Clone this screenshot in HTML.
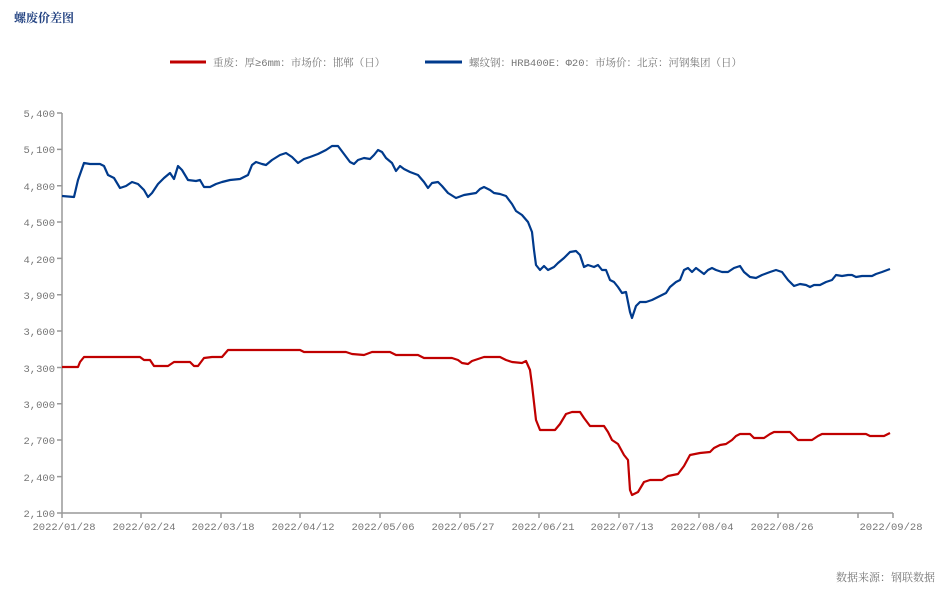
<!DOCTYPE html>
<html><head><meta charset="utf-8"><style>
body{margin:0;background:#fff;}
svg text{font-family:"Liberation Sans","Noto Sans CJK SC",sans-serif;}
svg .m, svg .m text{font-family:"Liberation Mono","Noto Serif CJK SC",monospace;}
</style></head><body>
<svg width="950" height="588" viewBox="0 0 950 588" xmlns="http://www.w3.org/2000/svg">
<text x="14" y="22" font-size="12" fill="#1f3f7f" font-weight="bold" style="font-family:'Noto Serif CJK SC','Liberation Serif',serif">螺废价差图</text>
<line x1="170" y1="62" x2="206" y2="62" stroke="#c00000" stroke-width="3"/>
<text class="m" x="213" y="66" font-size="10.5" fill="#777">重废：厚≥6mm：市场价：邯郸（日）</text>
<line x1="425" y1="62" x2="462" y2="62" stroke="#003a8c" stroke-width="3"/>
<text class="m" x="469" y="66" font-size="10.5" fill="#777">螺纹钢：HRB400E：Φ20：市场价：北京：河钢集团（日）</text>
<g class="m" font-size="10.5" fill="#777" text-anchor="end">
<text x="55" y="117">5,400</text><text x="55" y="153">5,100</text><text x="55" y="190">4,800</text><text x="55" y="226">4,500</text><text x="55" y="263">4,200</text><text x="55" y="299">3,900</text><text x="55" y="335">3,600</text><text x="55" y="372">3,300</text><text x="55" y="408">3,000</text><text x="55" y="444">2,700</text><text x="55" y="481">2,400</text><text x="55" y="517">2,100</text>
</g>
<g stroke="#999" stroke-width="1.5" fill="none">
<line x1="62" y1="113" x2="62" y2="513"/>
<line x1="62" y1="513" x2="893" y2="513"/>
<path d="M57 113H62M57 149.4H62M57 185.7H62M57 222H62M57 258.4H62M57 294.8H62M57 331H62M57 367.5H62M57 403.8H62M57 440H62M57 476.6H62M57 513H62"/>
<path d="M62 513V518M141 513V518M221 513V518M300 513V518M380 513V518M460 513V518M539 513V518M619 513V518M699 513V518M778 513V518M858 513V518M893 513V518"/>
</g>
<g class="m" font-size="10.5" fill="#777" text-anchor="middle">
<text x="64" y="530">2022/01/28</text><text x="144" y="530">2022/02/24</text><text x="223" y="530">2022/03/18</text><text x="303" y="530">2022/04/12</text><text x="383" y="530">2022/05/06</text><text x="463" y="530">2022/05/27</text><text x="543" y="530">2022/06/21</text><text x="622" y="530">2022/07/13</text><text x="702" y="530">2022/08/04</text><text x="782" y="530">2022/08/26</text><text x="891" y="530">2022/09/28</text>
</g>
<polyline fill="none" stroke="#003a8c" stroke-width="2.2" stroke-linejoin="round" points="62,196 74,197 78,180 84,163 90,164 100,164 104,166 108,175 114,178 120,188 126,186 132,182 138,184 144,190 148,197 152,193 158,184 164,178 170,173 174,179 178,166 182,170 188,180 196,181 200,180 204,187 210,187 216,184 222,182 230,180 240,179 248,175 252,165 256,162 262,164 266,165 272,160 280,155 286,153 292,157 298,163 304,159 310,157 318,154 326,150 332,146 338,146 344,154 350,162 354,164 358,160 364,158 370,159 374,155 378,150 382,152 386,158 392,163 396,171 400,166 404,169 410,172 418,175 424,182 428,188 432,183 438,182 442,186 448,193 456,198 464,195 470,194 476,193 480,189 484,187 490,190 494,193 500,194 506,196 512,204 516,211 522,215 528,222 532,232 534,250 536,265 540,270 544,266 548,270 554,267 558,263 564,258 570,252 576,251 580,255 584,267 588,265 594,267 598,265 602,270 606,270 610,280 614,282 618,287 622,293 626,292 630,312 632,318 636,306 640,302 646,302 652,300 656,298 660,296 666,293 670,287 676,282 680,280 684,270 688,268 692,272 696,268 700,271 704,274 708,270 712,268 716,270 722,272 728,272 734,268 740,266 744,272 750,277 756,278 762,275 770,272 776,270 782,272 788,280 794,286 800,284 806,285 810,287 814,285 820,285 826,282 832,280 836,275 842,276 848,275 852,275 856,277 862,276 866,276 872,276 876,274 882,272 890,269"/>
<polyline fill="none" stroke="#c00000" stroke-width="2.2" stroke-linejoin="round" points="62,367 78,367 80,362 84,357 140,357 144,360 150,360 154,366 168,366 174,362 190,362 194,366 198,366 204,358 212,357 222,357 228,350 300,350 304,352 346,352 352,354 364,355 372,352 390,352 396,355 418,355 424,358 452,358 458,360 462,363 468,364 472,361 478,359 484,357 500,357 506,360 512,362 522,363 526,361 530,370 532,385 536,420 540,430 555,430 560,424 566,414 572,412 580,412 584,418 590,426 604,426 608,432 612,440 618,444 624,455 628,460 630,490 632,495 638,492 644,482 650,480 662,480 668,476 678,474 684,466 690,455 700,453 710,452 714,448 720,445 726,444 732,440 736,436 740,434 750,434 754,438 764,438 770,434 774,432 790,432 794,436 798,440 812,440 818,436 822,434 866,434 870,436 884,436 890,433"/>
<text x="935" y="581" font-size="11" fill="#777" text-anchor="end" style="font-family:'Noto Serif CJK SC',serif">数据来源：钢联数据</text>
</svg>
</body></html>
